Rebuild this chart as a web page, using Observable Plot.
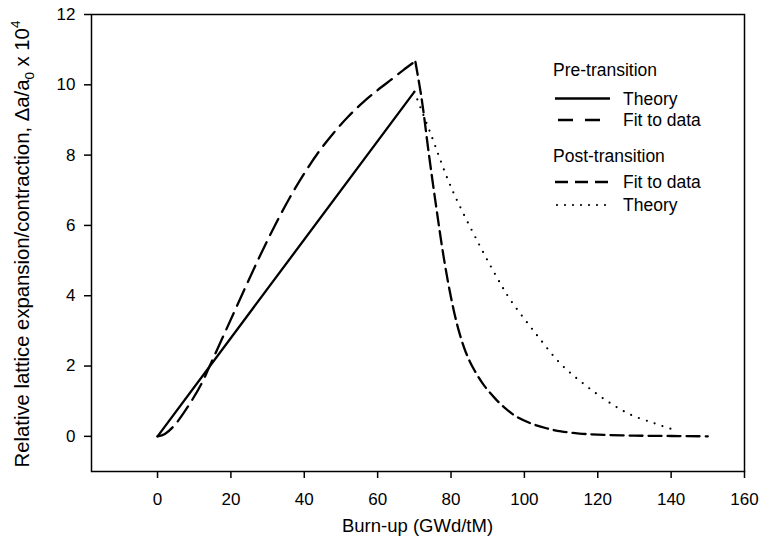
<!DOCTYPE html>
<html><head><meta charset="utf-8">
<script src="https://cdn.jsdelivr.net/npm/d3@7"></script>
<script src="https://cdn.jsdelivr.net/npm/@observablehq/plot@0.6"></script>
<style>body{margin:0;background:#fff}</style>
</head><body><div id="chart"></div>
<script>
const xTicks = [0, 20, 40, 60, 80, 100, 120, 140, 160];
const yTicks = [0, 2, 4, 6, 8, 10, 12];

const preTheoryX = [0, 70];
const preTheoryY = [0, 9.8];

const preFitX = [0, 2, 4.5, 8, 12, 14, 19, 24, 28, 32, 36, 40, 44, 48, 52, 56, 60, 64, 67, 70];
const preFitY = [0, 0.07, 0.3, 0.8, 1.5, 1.95, 3.1, 4.25, 5.15, 6.0, 6.78, 7.48, 8.1, 8.63, 9.1, 9.5, 9.85, 10.17, 10.42, 10.65];

const postFitX = [70.3, 72, 74, 76, 78, 80, 82, 84, 86, 89, 92, 95, 98, 102, 106, 110, 115, 120, 130, 140, 150];
const postFitY = [10.65, 9.6, 8.0, 6.5, 5.1, 3.95, 3.05, 2.4, 1.95, 1.45, 1.08, 0.78, 0.55, 0.36, 0.23, 0.14, 0.08, 0.05, 0.02, 0.01, 0.0];

const postTheoryX = [70, 74.3, 80, 87.6, 93.5, 96.2, 102.6, 109.9, 116.2, 122.6, 128.9, 135.5, 140];
const postTheoryY = [9.8, 8.65, 7.09, 5.47, 4.34, 3.88, 2.99, 2.06, 1.49, 1.0, 0.62, 0.37, 0.21];

const legendHeaders = ["Pre-transition", "Post-transition"];
const legendLabels = ["Theory", "Fit to data", "Fit to data", "Theory"];

const rows = (xs, ys) => xs.map((x, i) => ({x, y: ys[i]}));

const chart = Plot.plot({
  width: 762, height: 546,
  marginLeft: 91, marginRight: 18, marginTop: 14, marginBottom: 75,
  style: {fontFamily: "'Liberation Sans', Arial, sans-serif", fontSize: "17px", color: "#000", background: "#fff"},
  x: {domain: [-18, 160]},
  y: {domain: [-1, 12]},
  marks: [
    Plot.frame({stroke: "#000", strokeWidth: 1.5}),
    Plot.axisX({ticks: xTicks, tickSize: 7, tickPadding: 14, strokeWidth: 1.5, label: null}),
    Plot.axisY({ticks: yTicks, tickSize: 7, tickPadding: 9, strokeWidth: 1.5, label: null}),
    Plot.line(rows(preTheoryX, preTheoryY), {x: "x", y: "y", stroke: "#000", strokeWidth: 2.3}),
    Plot.line(rows(preFitX, preFitY), {x: "x", y: "y", stroke: "#000", strokeWidth: 2.3, curve: "catmull-rom", strokeDasharray: "18,8"}),
    Plot.line(rows(postFitX, postFitY), {x: "x", y: "y", stroke: "#000", strokeWidth: 2.3, curve: "catmull-rom", strokeDasharray: "13,6"}),
    Plot.line(rows(postTheoryX, postTheoryY), {x: "x", y: "y", stroke: "#000", strokeWidth: 2.2, curve: "catmull-rom", strokeDasharray: "0,8.3", strokeLinecap: "round"})
  ]
});
document.getElementById("chart").appendChild(chart);

const svg = d3.select(chart);
const font = "'Liberation Sans', Arial, sans-serif";

// axis titles
svg.append("text").attr("x", 417.5).attr("y", 532).attr("text-anchor", "middle")
  .attr("font-family", font).attr("font-size", 18.5).attr("fill", "#000")
  .text("Burn-up (GWd/tM)");

const yt = svg.append("text").attr("transform", "translate(29,244) rotate(-90)")
  .attr("text-anchor", "middle").attr("font-family", font).attr("font-size", 20.3).attr("fill", "#000");
yt.append("tspan").text("Relative lattice expansion/contraction, \u0394a/a");
yt.append("tspan").attr("font-size", 13.5).attr("dy", 5).text("0");
yt.append("tspan").attr("dy", -5).text(" x 10");
yt.append("tspan").attr("font-size", 13.5).attr("dy", -9.5).text("4");

// legend
const lg = svg.append("g").attr("font-family", font).attr("font-size", 17.5)
  .attr("fill", "#000").attr("text-anchor", "start");
const tx = 623;
const addHeader = (t, y) => lg.append("text").attr("x", 553).attr("y", y).attr("text-anchor", "start").text(t);
const addEntry = (t, y, x0, x1, dash, w) => {
  const l = lg.append("line").attr("x1", x0).attr("x2", x1).attr("y1", y).attr("y2", y)
    .attr("stroke", "#000").attr("stroke-width", w);
  if (dash) l.attr("stroke-dasharray", dash);
  if (dash === "0,8") l.attr("stroke-linecap", "round");
  lg.append("text").attr("x", tx).attr("y", y + 6).attr("text-anchor", "start").text(t);
};
addHeader(legendHeaders[0], 76);
addEntry(legendLabels[0], 98.5, 555, 610, null, 2.3);
addEntry(legendLabels[1], 120, 558, 609, "15,12", 2.3);
addHeader(legendHeaders[1], 162);
addEntry(legendLabels[2], 182, 555, 608, "13,7", 2.3);
addEntry(legendLabels[3], 205, 557, 606, "0,8", 2.2);
</script>
</body></html>
